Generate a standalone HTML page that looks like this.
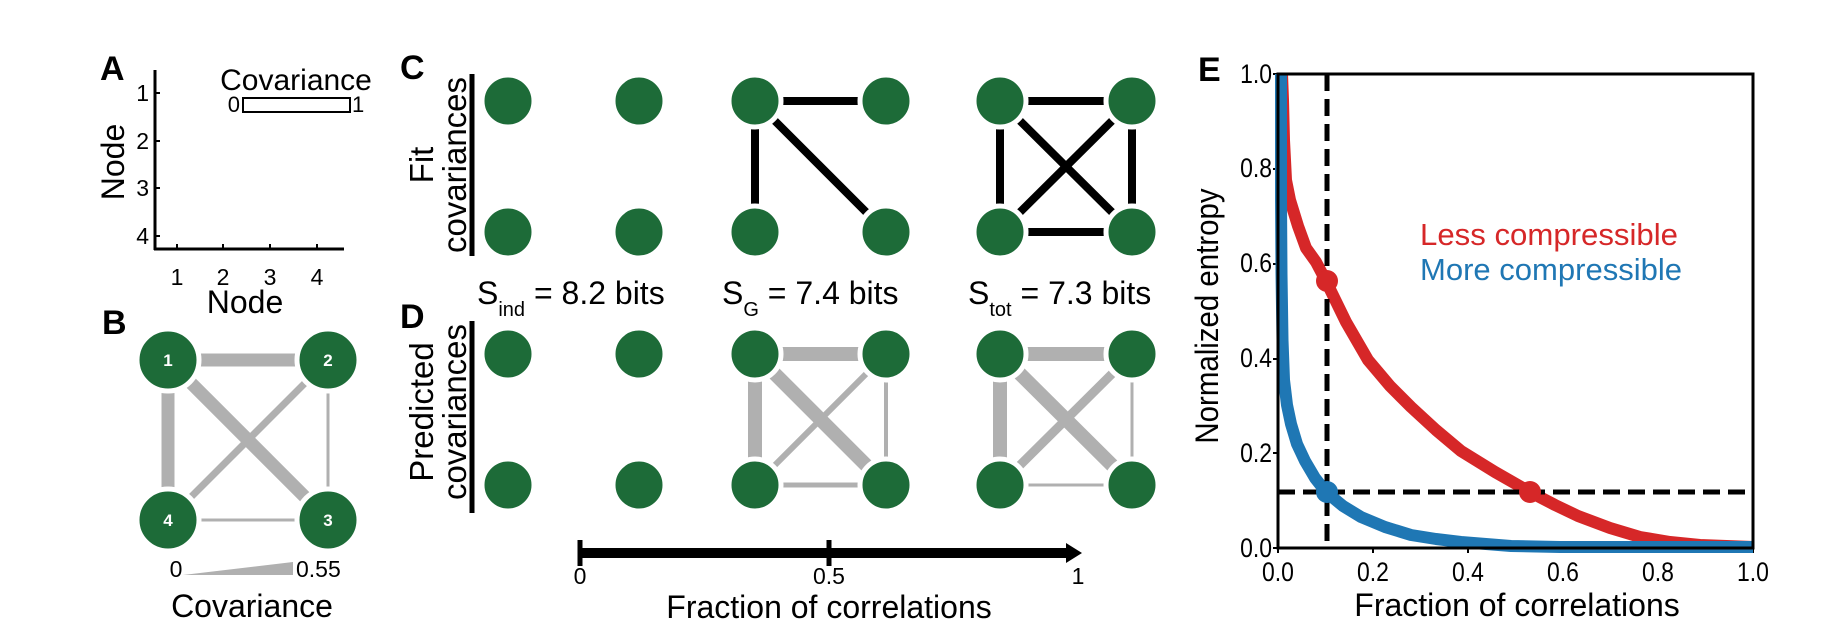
<!DOCTYPE html>
<html><head><meta charset="utf-8"><style>
html,body{margin:0;padding:0;background:#fff;}
svg{display:block;font-family:"Liberation Sans",Arial,sans-serif;}
</style></head><body>
<svg width="1846" height="642" viewBox="0 0 1846 642" xmlns="http://www.w3.org/2000/svg">
<rect width="1846" height="642" fill="#fff"/>
<!-- Panel A -->
<text x="100" y="80" font-size="34" font-weight="bold">A</text>
<line x1="155" y1="70" x2="155" y2="250" stroke="#000" stroke-width="3"/>
<line x1="154" y1="249" x2="344" y2="249" stroke="#000" stroke-width="3"/>
<g font-size="23" text-anchor="end">
<text x="149" y="101">1</text><text x="149" y="149">2</text><text x="149" y="196">3</text><text x="149" y="244">4</text>
</g>
<g stroke="#000" stroke-width="2"><line x1="155" y1="93" x2="160" y2="93"/><line x1="155" y1="141" x2="160" y2="141"/><line x1="155" y1="188" x2="160" y2="188"/><line x1="155" y1="236" x2="160" y2="236"/>
<line x1="177" y1="249" x2="177" y2="244"/><line x1="223" y1="249" x2="223" y2="244"/><line x1="270" y1="249" x2="270" y2="244"/><line x1="317" y1="249" x2="317" y2="244"/></g>
<text transform="translate(124,162) rotate(-90)" font-size="32" text-anchor="middle">Node</text>
<text x="296" y="90" font-size="30" text-anchor="middle">Covariance</text>
<rect x="243" y="98" width="107" height="14" fill="#fff" stroke="#000" stroke-width="2"/>
<text x="240" y="112" font-size="22" text-anchor="end">0</text>
<text x="352" y="112" font-size="22">1</text>
<g font-size="23" text-anchor="middle">
<text x="177" y="285">1</text><text x="223" y="285">2</text><text x="270" y="285">3</text><text x="317" y="285">4</text>
</g>
<text x="245" y="313" font-size="32" text-anchor="middle">Node</text>
<!-- Panel B -->
<text x="102" y="334" font-size="34" font-weight="bold">B</text>
<g stroke="#b0b0b0">
<line x1="168" y1="360" x2="328" y2="360" stroke-width="13"/>
<line x1="168" y1="360" x2="168" y2="520" stroke-width="13"/>
<line x1="168" y1="360" x2="328" y2="520" stroke-width="13"/>
<line x1="328" y1="360" x2="168" y2="520" stroke-width="7"/>
<line x1="328" y1="360" x2="328" y2="520" stroke-width="3"/>
<line x1="168" y1="520" x2="328" y2="520" stroke-width="3"/>
</g>
<g fill="#1d6b38" stroke="#fff" stroke-width="5">
<circle cx="168" cy="360" r="31"/><circle cx="328" cy="360" r="31"/><circle cx="168" cy="520" r="31"/><circle cx="328" cy="520" r="31"/>
</g>
<g fill="#fff" font-size="17" font-weight="bold" text-anchor="middle">
<text x="168" y="366">1</text><text x="328" y="366">2</text><text x="168" y="526">4</text><text x="328" y="526">3</text>
</g>
<polygon points="183,575 293,562 293,575" fill="#b0b0b0"/>
<text x="176" y="577" font-size="23" text-anchor="middle">0</text>
<text x="296" y="577" font-size="23">0.55</text>
<text x="252" y="617" font-size="32" text-anchor="middle">Covariance</text>
<!-- Panel C -->
<text x="400" y="79" font-size="34" font-weight="bold">C</text>
<line x1="472" y1="74" x2="472" y2="256" stroke="#000" stroke-width="5"/>
<g font-size="33" text-anchor="middle">
<text transform="translate(433,165) rotate(-90)">Fit</text>
<text transform="translate(466,165) rotate(-90)">covariances</text>
</g>
<g stroke="#000" stroke-width="8">
<line x1="755" y1="101" x2="886" y2="101"/><line x1="755" y1="101" x2="755" y2="232"/><line x1="755" y1="101" x2="886" y2="232"/>
<line x1="1000" y1="101" x2="1132" y2="101"/><line x1="1000" y1="101" x2="1000" y2="232"/><line x1="1000" y1="101" x2="1132" y2="232"/>
<line x1="1132" y1="101" x2="1000" y2="232"/><line x1="1132" y1="101" x2="1132" y2="232"/><line x1="1000" y1="232" x2="1132" y2="232"/>
</g>
<g fill="#1d6b38" stroke="#fff" stroke-width="5">
<circle cx="508" cy="101" r="26"/><circle cx="639" cy="101" r="26"/><circle cx="508" cy="232" r="26"/><circle cx="639" cy="232" r="26"/>
<circle cx="755" cy="101" r="26"/><circle cx="886" cy="101" r="26"/><circle cx="755" cy="232" r="26"/><circle cx="886" cy="232" r="26"/>
<circle cx="1000" cy="101" r="26"/><circle cx="1132" cy="101" r="26"/><circle cx="1000" cy="232" r="26"/><circle cx="1132" cy="232" r="26"/>
</g>
<g font-size="32">
<text x="477" y="304">S<tspan font-size="20" dy="12">ind</tspan><tspan dy="-12"> = 8.2 bits</tspan></text>
<text x="722" y="304">S<tspan font-size="20" dy="12">G</tspan><tspan dy="-12"> = 7.4 bits</tspan></text>
<text x="968" y="304">S<tspan font-size="20" dy="12">tot</tspan><tspan dy="-12"> = 7.3 bits</tspan></text>
</g>
<!-- Panel D -->
<text x="400" y="328" font-size="34" font-weight="bold">D</text>
<line x1="472" y1="321" x2="472" y2="513" stroke="#000" stroke-width="5"/>
<g font-size="33" text-anchor="middle">
<text transform="translate(433,412) rotate(-90)">Predicted</text>
<text transform="translate(466,412) rotate(-90)">covariances</text>
</g>
<g stroke="#b0b0b0">
<line x1="755" y1="354" x2="886" y2="354" stroke-width="14"/><line x1="755" y1="354" x2="755" y2="485" stroke-width="14"/><line x1="755" y1="354" x2="886" y2="485" stroke-width="14"/>
<line x1="886" y1="354" x2="755" y2="485" stroke-width="6"/><line x1="886" y1="354" x2="886" y2="485" stroke-width="4"/><line x1="755" y1="485" x2="886" y2="485" stroke-width="5"/>
<line x1="1000" y1="354" x2="1132" y2="354" stroke-width="14"/><line x1="1000" y1="354" x2="1000" y2="485" stroke-width="14"/><line x1="1000" y1="354" x2="1132" y2="485" stroke-width="14"/>
<line x1="1132" y1="354" x2="1000" y2="485" stroke-width="9"/><line x1="1132" y1="354" x2="1132" y2="485" stroke-width="3"/><line x1="1000" y1="485" x2="1132" y2="485" stroke-width="3"/>
</g>
<g fill="#1d6b38" stroke="#fff" stroke-width="5">
<circle cx="508" cy="354" r="26"/><circle cx="639" cy="354" r="26"/><circle cx="508" cy="485" r="26"/><circle cx="639" cy="485" r="26"/>
<circle cx="755" cy="354" r="26"/><circle cx="886" cy="354" r="26"/><circle cx="755" cy="485" r="26"/><circle cx="886" cy="485" r="26"/>
<circle cx="1000" cy="354" r="26"/><circle cx="1132" cy="354" r="26"/><circle cx="1000" cy="485" r="26"/><circle cx="1132" cy="485" r="26"/>
</g>
<!-- arrow axis -->
<line x1="579" y1="553" x2="1070" y2="553" stroke="#000" stroke-width="10"/>
<polygon points="1066,543 1082,553 1066,563" fill="#000"/>
<line x1="580" y1="540" x2="580" y2="566" stroke="#000" stroke-width="5"/>
<line x1="829" y1="540" x2="829" y2="566" stroke="#000" stroke-width="5"/>
<g font-size="23" text-anchor="middle">
<text x="580" y="584">0</text><text x="829" y="584">0.5</text><text x="1078" y="584">1</text>
</g>
<text x="829" y="618" font-size="32" text-anchor="middle">Fraction of correlations</text>
<!-- Panel E -->
<text x="1198" y="81" font-size="34" font-weight="bold">E</text>
<text transform="translate(1218,316) rotate(-90) scale(0.92,1)" font-size="32" text-anchor="middle">Normalized entropy</text>
<g font-size="27" text-anchor="end">
<text x="1272" y="557" transform="translate(1272,0) scale(0.85,1) translate(-1272,0)">0.0</text>
<text x="1272" y="462" transform="translate(1272,0) scale(0.85,1) translate(-1272,0)">0.2</text>
<text x="1272" y="367" transform="translate(1272,0) scale(0.85,1) translate(-1272,0)">0.4</text>
<text x="1272" y="272" transform="translate(1272,0) scale(0.85,1) translate(-1272,0)">0.6</text>
<text x="1272" y="177" transform="translate(1272,0) scale(0.85,1) translate(-1272,0)">0.8</text>
<text x="1272" y="83" transform="translate(1272,0) scale(0.85,1) translate(-1272,0)">1.0</text>
</g>
<g font-size="27" text-anchor="middle">
<text x="1278" y="581" transform="translate(1278,0) scale(0.85,1) translate(-1278,0)">0.0</text>
<text x="1373" y="581" transform="translate(1373,0) scale(0.85,1) translate(-1373,0)">0.2</text>
<text x="1468" y="581" transform="translate(1468,0) scale(0.85,1) translate(-1468,0)">0.4</text>
<text x="1563" y="581" transform="translate(1563,0) scale(0.85,1) translate(-1563,0)">0.6</text>
<text x="1658" y="581" transform="translate(1658,0) scale(0.85,1) translate(-1658,0)">0.8</text>
<text x="1753" y="581" transform="translate(1753,0) scale(0.85,1) translate(-1753,0)">1.0</text>
</g>
<text x="1517" y="616" font-size="32" text-anchor="middle">Fraction of correlations</text>
<g stroke="#000" stroke-width="2">
<line x1="1278" y1="74" x2="1273" y2="74"/><line x1="1278" y1="169" x2="1273" y2="169"/><line x1="1278" y1="264" x2="1273" y2="264"/><line x1="1278" y1="359" x2="1273" y2="359"/><line x1="1278" y1="453" x2="1273" y2="453"/><line x1="1278" y1="548" x2="1273" y2="548"/>
<line x1="1278" y1="548" x2="1278" y2="553"/><line x1="1373" y1="548" x2="1373" y2="553"/><line x1="1468" y1="548" x2="1468" y2="553"/><line x1="1563" y1="548" x2="1563" y2="553"/><line x1="1658" y1="548" x2="1658" y2="553"/><line x1="1753" y1="548" x2="1753" y2="553"/>
</g>
<polyline fill="none" stroke="#d62728" stroke-width="12" stroke-linejoin="round" stroke-linecap="butt" points="1282,74 1283,100 1284,140 1286,180 1290,200 1298,226 1306,248 1316,262 1326,281 1346,322 1368,360 1390,386 1411,407 1436,430 1461,451 1495,472 1530,492 1555,505 1578,516 1610,528 1640,537 1670,542 1700,545 1753,547"/>
<polyline fill="none" stroke="#1f77b4" stroke-width="12" stroke-linejoin="round" points="1281,74 1281,200 1281.5,274 1282.5,340 1284,380 1287,405 1291,424 1297,444 1305,461 1315,478 1326,492 1343,506 1361,517 1385,527 1411,535 1436,539 1461,542 1511,546 1560,547 1753,547"/>
<line x1="1327" y1="74" x2="1327" y2="548" stroke="#000" stroke-width="5" stroke-dasharray="17,8"/>
<line x1="1278" y1="492" x2="1753" y2="492" stroke="#000" stroke-width="5" stroke-dasharray="17,8"/>
<circle cx="1327" cy="281" r="11" fill="#d62728"/>
<circle cx="1530" cy="492" r="11" fill="#d62728"/>
<circle cx="1327" cy="492" r="11" fill="#1f77b4"/>
<rect x="1278" y="74" width="475" height="474" fill="none" stroke="#000" stroke-width="3"/>
<text x="1420" y="245" font-size="31" fill="#d62728" textLength="258" lengthAdjust="spacingAndGlyphs">Less compressible</text>
<text x="1420" y="280" font-size="31" fill="#1f77b4" textLength="262" lengthAdjust="spacingAndGlyphs">More compressible</text>
</svg>
</body></html>
